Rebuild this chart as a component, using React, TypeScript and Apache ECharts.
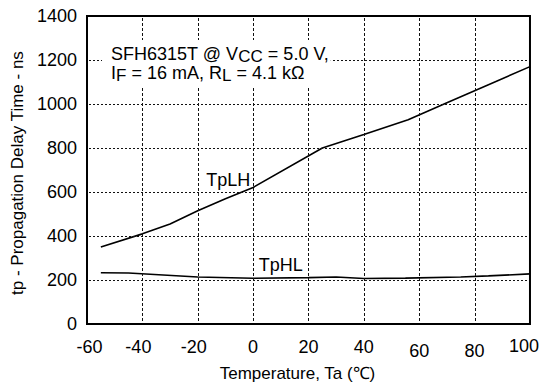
import React, { useEffect, useRef } from 'react';
import * as echarts from 'echarts';

const xTicks = [-60, -40, -20, 0, 20, 40, 60, 80, 100];
const yTicks = [0, 200, 400, 600, 800, 1000, 1200, 1400];

const tplhTemp = [-55, -40, -30, -20, -10, 0, 25, 40, 56, 70, 85, 100];
const tplhNs = [350, 410, 455, 515, 570, 621, 800, 862, 929, 1006, 1088, 1170];

const tphlTemp = [-55, -45, -20, 0, 20, 30, 40, 55, 75, 85, 100];
const tphlNs = [233, 232, 214, 208, 211, 214, 207, 209, 214, 219, 228];

const seriesNames = ['TpLH', 'TpHL'];
const seriesLabelAt = [
  [-9, 655],
  [10, 270],
];

const FONT = '"Liberation Sans", Arial, Helvetica, sans-serif';

export default function App() {
  const ref = useRef<HTMLDivElement>(null);
  useEffect(() => {
    if (!ref.current) return;
    const chart = echarts.init(ref.current, undefined, { renderer: 'svg' });
    const tok = (extra: any) => ({ fontSize: 18, fontFamily: FONT, color: '#000', ...extra });
    const innerX = xTicks.slice(1, -1);
    const innerY = yTicks.slice(1, -1);
    const mkSeries = (i: number, xs: number[], ys: number[]) => ({
      type: 'line',
      name: seriesNames[i],
      data: xs.map((x, k) => [x, ys[k]]),
      showSymbol: false,
      symbol: 'none',
      lineStyle: { color: '#000', width: 1.6 },
      z: 3,
      markPoint: {
        symbol: 'circle',
        symbolSize: 1,
        itemStyle: { color: 'rgba(0,0,0,0)' },
        label: {
          show: true,
          position: 'inside',
          formatter: seriesNames[i],
          fontSize: 18,
          fontFamily: FONT,
          color: '#000',
        },
        data: [{ coord: seriesLabelAt[i] }],
      },
    });
    // dotted grid lines drawn as tiny filled rects placed through the axis scales
    const gridSeries = {
      type: 'custom',
      name: 'grid',
      silent: true,
      z: 4,
      clip: false,
      data: [
        ...innerX.map((v) => [v, 0, 0]),
        ...innerY.map((v) => [-60, v, 1]),
      ],
      encode: { x: 0, y: 1 },
      renderItem: (params: any, api: any) => {
        const cs = params.coordSys;
        const kind = api.value(2);
        const children: any[] = [];
        const style = { fill: '#111', stroke: null };
        if (kind === 0) {
          const px = Math.round(api.coord([api.value(0), 0])[0]);
          for (let y = cs.y + 2; y < cs.y + cs.height - 2; y += 5) {
            children.push({ type: 'rect', shape: { x: px, y, width: 1, height: 3 }, style });
          }
        } else {
          const py = Math.round(api.coord([-60, api.value(1)])[1]);
          for (let x = cs.x + 2; x < cs.x + cs.width - 2; x += 4) {
            children.push({ type: 'rect', shape: { x, y: py, width: 2, height: 1 }, style });
          }
        }
        return { type: 'group', children };
      },
    };
    chart.setOption({
      animation: false,
      grid: {
        left: 87,
        right: 10,
        top: 16,
        bottom: 57,
        show: true,
        borderColor: '#000',
        borderWidth: 2,
      },
      xAxis: {
        type: 'value',
        min: -60,
        max: 100,
        interval: 20,
        axisLine: { show: false },
        axisTick: { show: false },
        splitLine: { show: false },
        axisLabel: {
          margin: 13,
          fontSize: 18,
          fontFamily: FONT,
          color: '#000',
          showMaxLabel: true,
          showMinLabel: true,
          formatter: (v: number) => {
            if (v === 60 || v === 80) return `{lo|${v}}`;
            if (v === 100) return `{hi|${v}}`;
            if (v === -60) return `{r|${v}}`;
            if (v < 0) return `{l|${v}}`;
            return `{n|${v}}`;
          },
          rich: {
            n: tok({ padding: [1, 0, 0, 0] }),
            lo: tok({ padding: [5, 0, 0, 0] }),
            hi: tok({ padding: [0, 12, 0, 0] }),
            l: tok({ padding: [1, 8, 0, 0] }),
            r: tok({ padding: [1, 0, 0, 5] }),
          },
        },
        name: 'Temperature, Ta (℃)',
        nameLocation: 'middle',
        nameGap: 40,
        nameTextStyle: {
          fontSize: 17,
          fontFamily: FONT,
          color: '#000',
          padding: [0, 22, 0, 0],
        },
      },
      yAxis: {
        type: 'value',
        min: 0,
        max: 1400,
        interval: 200,
        axisLine: { show: false },
        axisTick: { show: false },
        splitLine: { show: false },
        axisLabel: {
          margin: 10,
          fontSize: 18,
          fontFamily: FONT,
          color: '#000',
          formatter: (v: number) => (yTicks.includes(v) ? String(v) : ''),
        },
        name: 'tp - Propagation Delay Time - ns',
        nameLocation: 'middle',
        nameGap: 57,
        nameTextStyle: {
          fontSize: 17,
          fontFamily: FONT,
          color: '#000',
          padding: [0, 6, 0, 0],
        },
      },
      graphic: [
        {
          type: 'text',
          left: 102,
          top: 40,
          z: 10,
          style: {
            text: 'SFH6315T @ V{s|CC} = 5.0 V,\nI{s2|F} = 16 mA, R{s2|L} = 4.1 kΩ',
            fontSize: 18,
            fontFamily: FONT,
            fill: '#000',
            lineHeight: 18.5,
            backgroundColor: '#fff',
            padding: [5, 2, 5, 9],
            rich: {
              s: { fontSize: 17, fontFamily: FONT, fill: '#000', lineHeight: 13.5, padding: [5, 0, 0, 0] },
              s2: { fontSize: 17, fontFamily: FONT, fill: '#000', lineHeight: 12.5, padding: [6, 0, 0, 0] },
            },
          },
        },
      ],
      series: [gridSeries, mkSeries(0, tplhTemp, tplhNs), mkSeries(1, tphlTemp, tphlNs)],
    });
    return () => chart.dispose();
  }, []);
  return (
    <div
      ref={ref}
      style={{ position: 'fixed', left: 0, top: 0, width: 542, height: 387, background: '#fff' }}
    />
  );
}
